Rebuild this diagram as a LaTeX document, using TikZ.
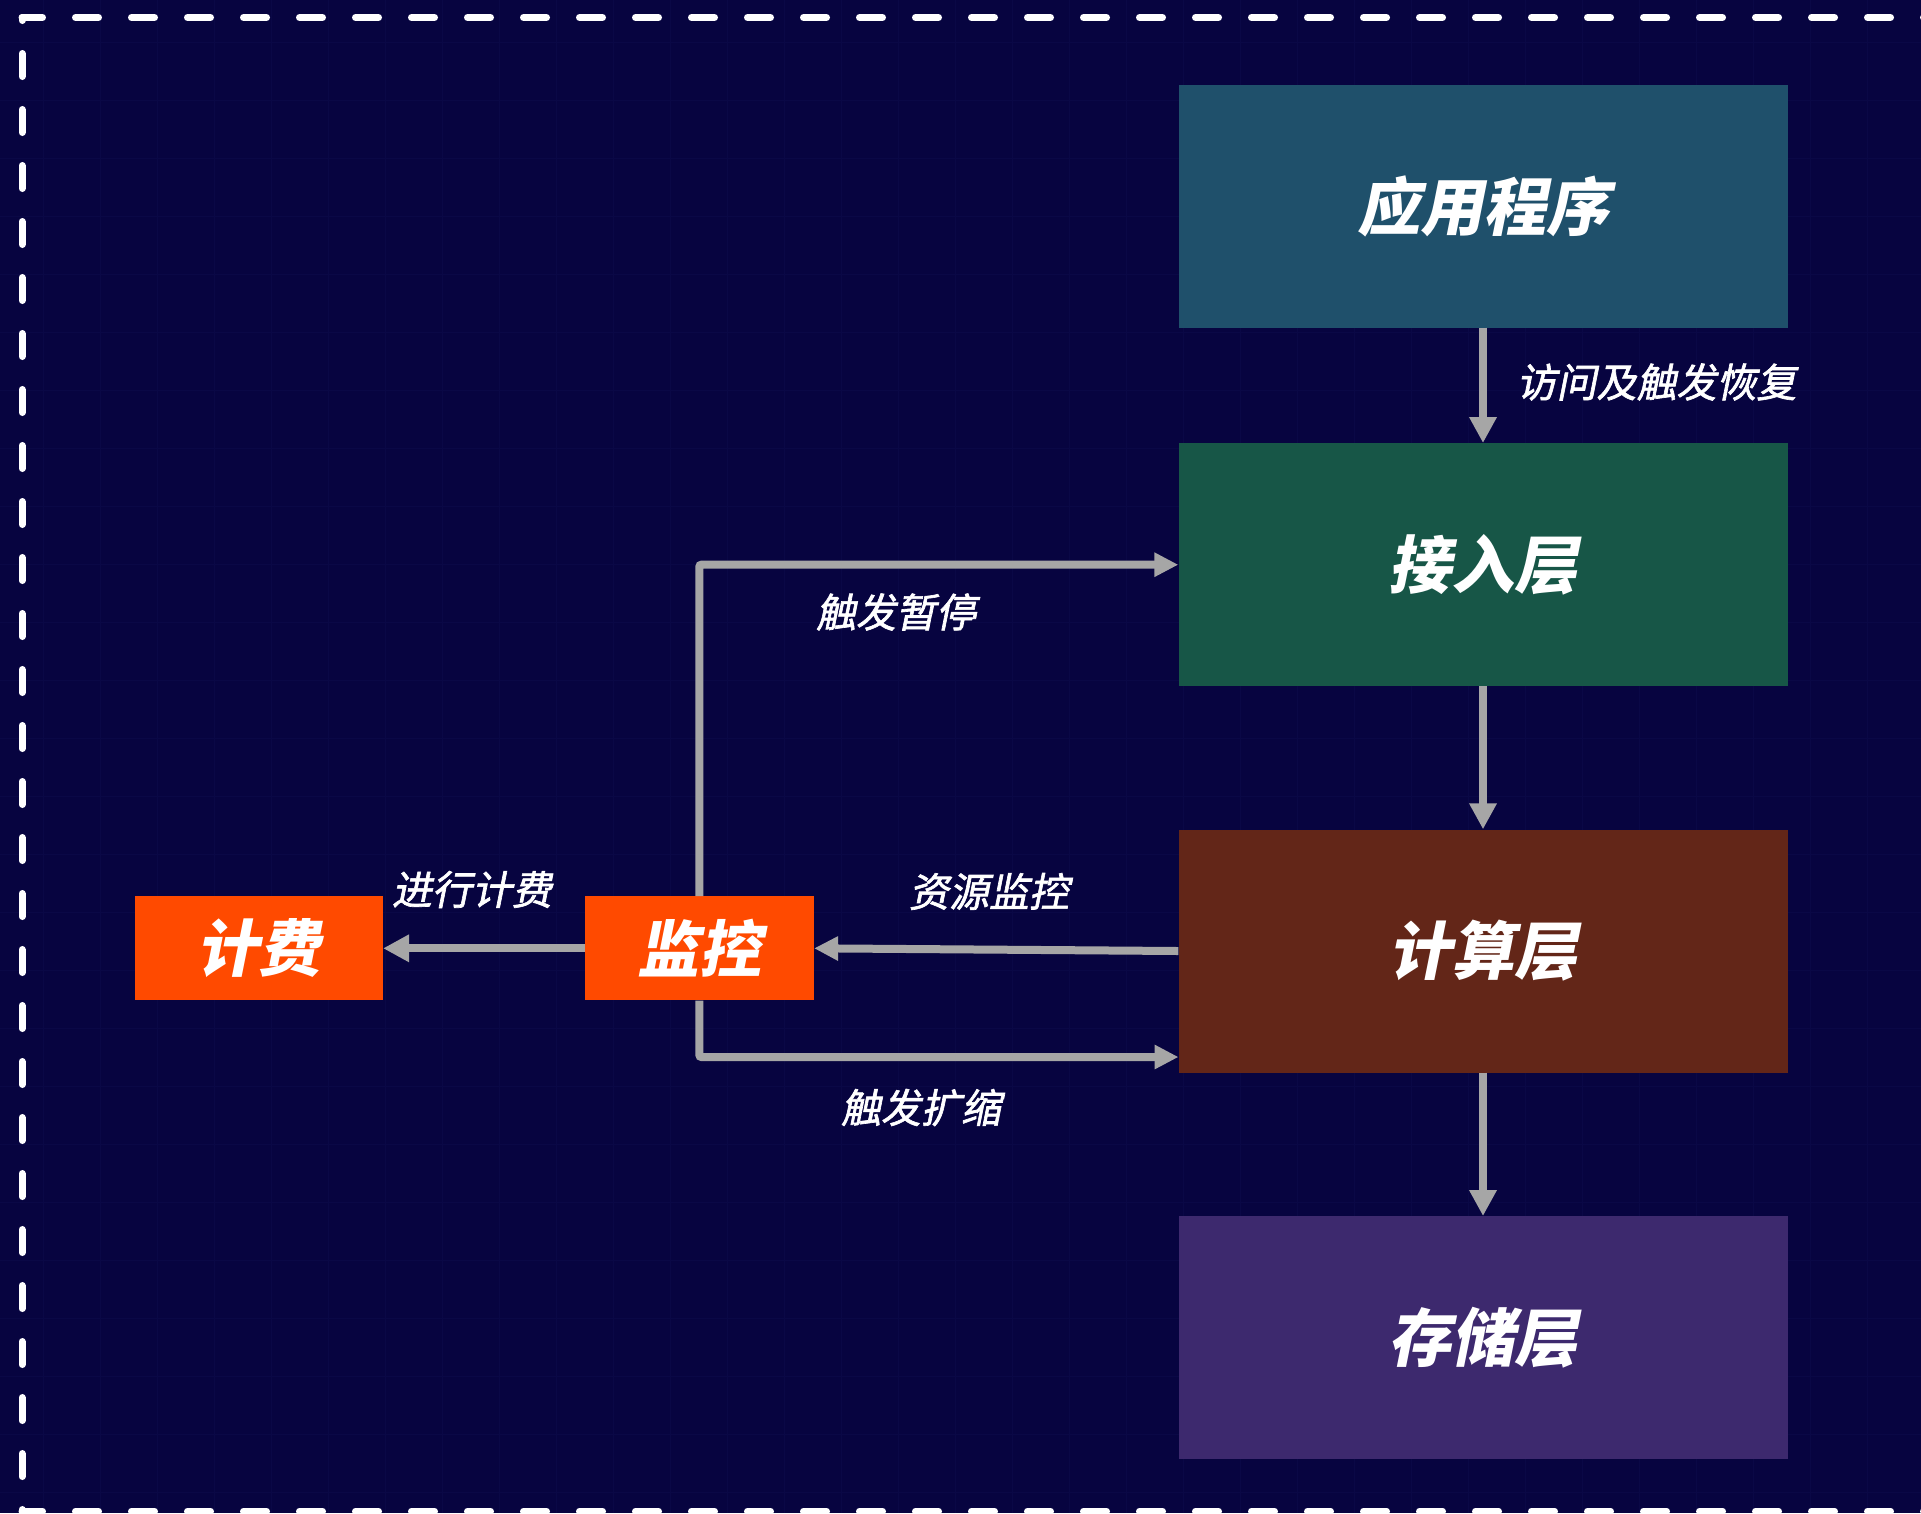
\documentclass[tikz,border=0pt]{standalone}
\usepackage{fontspec}
\newfontfamily\cjk[FakeSlant=0.2]{Noto Sans CJK SC}
\newfontfamily\cjkl[FakeSlant=0.2,FakeBold=1.6]{Noto Sans CJK SC}
\usetikzlibrary{arrows.meta}
\definecolor{bg}{RGB}{7,4,64}
\definecolor{gridc}{RGB}{10,8,70}
\definecolor{appc}{RGB}{31,80,107}
\definecolor{accc}{RGB}{23,86,71}
\definecolor{cmpc}{RGB}{99,38,24}
\definecolor{stoc}{RGB}{61,41,110}
\definecolor{orng}{RGB}{255,74,0}
\definecolor{arrc}{RGB}{166,166,166}
\tikzset{
  layerbox/.style={draw=none, minimum width=609pt, minimum height=243pt, inner sep=0pt,
    text=white, font=\cjk\bfseries\fontsize{63}{63}\selectfont},
  orangebox/.style={fill=orng, draw=none, minimum height=104pt, inner sep=0pt,
    text=white, font=\cjk\bfseries\fontsize{62}{62}\selectfont},
  lbl/.style={text=white, inner sep=0pt, font=\cjkl\fontsize{40}{40}\selectfont},
  conn/.style={draw=arrc, line width=8pt, rounded corners=2pt,
    -{Triangle[width=26pt,length=26pt]}},
  connsm/.style={draw=arrc, line width=8pt, rounded corners=2pt,
    -{Triangle[width=23pt,length=24pt]}},
  border/.style={draw=white, line width=7pt, line cap=round, dash pattern=on 23pt off 33pt}
}
\begin{document}
\begin{tikzpicture}[x=1pt,y=-1pt]
\useasboundingbox (0,0) rectangle (1921,1513);
\fill[bg] (0,0) rectangle (1921,1513);
% faint grid
\foreach \gx in {43,100,...,1921} \draw[gridc, line width=1pt] (\gx,0) -- (\gx,1513);
\foreach \gy in {42,100,...,1513} \draw[gridc, line width=1pt] (0,\gy) -- (1921,\gy);
% dashed border
\draw[border, dash phase=2.5pt] (22,17.5) -- (1960,17.5);
\draw[border, dash phase=20pt] (22,17.5) -- (22,1511);
\draw[border, dash phase=2.5pt] (22,1511) -- (1960,1511);
% layer boxes
\node[layerbox, fill=appc] (app) at (1483,206) {应用程序};
\node[layerbox, fill=accc] (acc) at (1483,564.7) {接入层};
\node[layerbox, fill=cmpc] (cmp) at (1483,951) {计算层};
\node[layerbox, fill=stoc] (sto) at (1483,1337.7) {存储层};
% orange boxes
\node[orangebox, minimum width=248pt] (fee) at (258.9,948.3) {计费};
\node[orangebox, minimum width=229pt] (mon) at (699.4,948.3) {监控};
\coordinate (scalein) at (1178.5,1057);
% connectors
\draw[conn] (app.south) -- (acc.north);
\draw[conn] (acc.south) -- (cmp.north);
\draw[conn] (cmp.south) -- (sto.north);
\draw[conn] (mon.west) -- (fee.east);
\draw[connsm] (cmp.west) -- (mon.east);
\draw[connsm] (mon.north) |- (acc.west);
\draw[connsm] (mon.south) |- (scalein);
% labels
\node[lbl] (l1) at (1656.5,382) {访问及触发恢复};
\node[lbl] (l2) at (896,612) {触发暂停};
\node[lbl] (l3) at (472,889.5) {进行计费};
\node[lbl] (l4) at (989,891.5) {资源监控};
\node[lbl] (l5) at (921,1107.5) {触发扩缩};
\end{tikzpicture}
\end{document}
